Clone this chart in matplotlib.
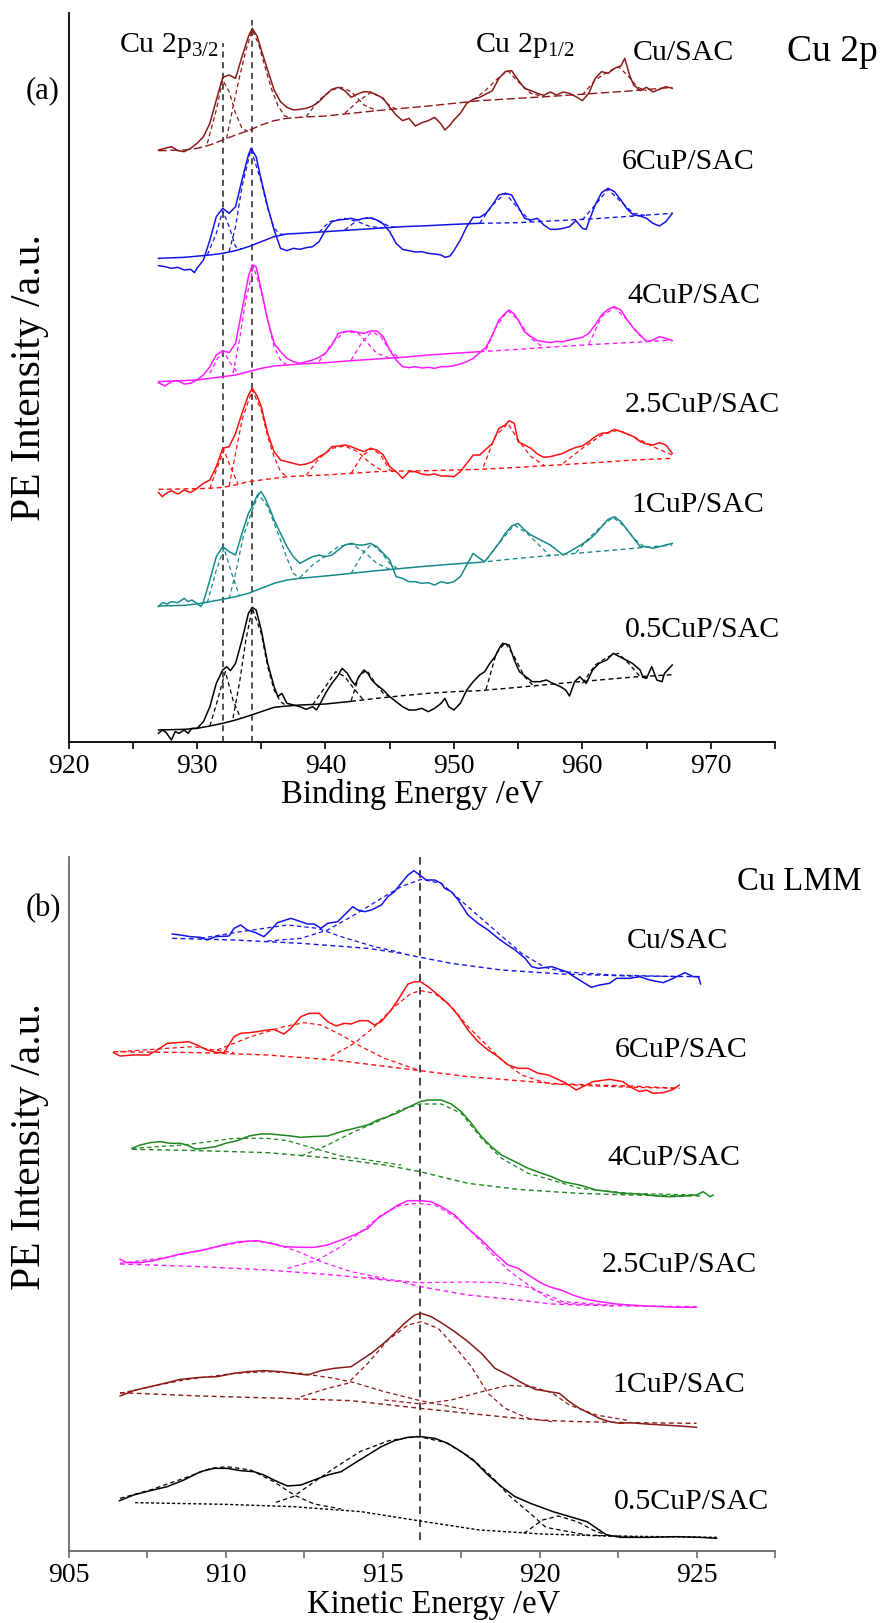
import matplotlib
matplotlib.use("Agg")
import matplotlib.pyplot as plt
import numpy as np
from matplotlib.ticker import MultipleLocator

plt.rcParams['font.family'] = ['Liberation Serif', 'DejaVu Serif']
plt.rcParams['mathtext.fontset'] = 'custom'
plt.rcParams['mathtext.rm'] = 'Liberation Serif'
plt.rcParams['mathtext.it'] = 'Liberation Serif:italic'
plt.rcParams['mathtext.bf'] = 'Liberation Serif:bold'

# ======================= DATA: panel (a) Cu 2p =======================
samples = ['Cu/SAC', '6CuP/SAC', '4CuP/SAC', '2.5CuP/SAC', '1CuP/SAC', '0.5CuP/SAC']
cu2p_ticks = [920, 930, 940, 950, 960, 970]
cu2p_refs = [932.0, 934.3]
cu2p_offsets = [1774, 1451, 1081, 758, 408, 36]

cu2p_cusac = [(927,2),(927.5,7),(928,12),(928.5,0),(929,-3),(929.5,7),(930,22),(930.5,42),(931,82),(931.5,152),
              (932,220),(932.5,227),(933,217),(933.5,282),(934,342),(934.3,367),(934.7,342),(935,302),(935.5,242),
              (936,182),(936.5,147),(937,130),(937.5,122),(938,124),(938.5,127),(939,134),(939.5,147),(940,167),
              (940.5,184),(941,190),(941.5,180),(942,160),(942.5,170),(943,177),(943.5,176),(944,167),(944.5,157),
              (945,130),(945.5,107),(946,90),(946.5,97),(947,74),(947.5,84),(948,90),(948.5,100),(949,80),(949.3,62),
              (949.7,77),(950,92),(950.5,112),(951,142),(951.5,154),(952,160),(952.5,170),(953,180),(953.5,217),
              (954,237),(954.5,240),(955,212),(955.5,187),(956,180),(956.5,172),(957,166),(957.5,176),(958,167),
              (958.5,176),(959,172),(959.5,162),(960,150),(960.5,172),(961,217),(961.5,237),(962,232),(962.5,247),
              (963,254),(963.3,277),(963.7,224),(964,197),(964.5,180),(965,190),(965.5,176),(966,184),(966.5,192),(967,187)]
cu2p_6cup = [(927,-22),(927.5,-25),(928,-30),(928.5,-27),(929,-35),(929.5,-33),(929.8,-43),(930,-30),(930.5,-5),(931,55),
             (931.5,125),(932,150),(932.5,135),(933,155),(933.5,235),(934,310),(934.2,330),(934.6,305),(935,235),
             (935.5,155),(936,85),(936.5,30),(937,23),(937.5,30),(938,27),(938.5,32),(939,35),(939.5,50),(940,85),
             (940.5,110),(941,115),(941.5,117),(942,120),(942.5,115),(943,120),(943.5,121),(944,115),(944.5,103),
             (945,80),(945.5,45),(946,27),(946.5,23),(947,19),(947.5,20),(948,15),(948.5,13),(949,10),(949.3,3),
             (949.7,7),(950,23),(950.5,55),(951,95),(951.5,123),(952,123),(952.5,135),(953,160),(953.5,190),(954,195),
             (954.5,190),(955,155),(955.5,120),(956,115),(956.5,120),(957,100),(957.5,87),(958,87),(958.5,90),(959,95),
             (959.5,113),(960,90),(960.3,87),(960.5,110),(961,160),(961.5,197),(962,210),(962.5,200),(963,175),
             (963.5,147),(964,130),(964.5,127),(965,120),(965.5,105),(966,97),(966.5,110),(967,135)]
cu2p_4cup = [(927,-3),(927.5,-13),(928,0),(928.5,3),(929,-7),(929.5,-5),(930,5),(930.5,20),(931,45),(931.5,80),(932,93),
             (932.5,87),(933,115),(933.5,215),(934,315),(934.3,350),(934.6,345),(935,275),(935.5,185),(936,115),
             (936.5,90),(937,70),(937.5,60),(938,55),(938.5,60),(939,65),(939.5,73),(940,85),(940.5,110),(941,145),
             (941.5,150),(942,152),(942.5,148),(943,145),(943.5,152),(944,152),(944.5,135),(945,95),(945.5,65),
             (946,45),(946.5,42),(947,45),(947.5,41),(948,43),(948.5,40),(949,45),(949.5,45),(950,48),(950.5,53),
             (951,60),(951.5,70),(952,87),(952.5,103),(953,140),(953.5,185),(954,205),(954.3,215),(954.7,203),(955,185),
             (955.5,150),(956,135),(956.5,123),(957,120),(957.5,117),(958,121),(958.5,120),(959,125),(959.5,129),
             (960,133),(960.5,145),(961,170),(961.5,200),(962,217),(962.5,225),(963,215),(963.5,185),(964,160),
             (964.5,140),(965,120),(965.5,125),(966,135),(966.5,130),(967,123)]
cu2p_25cup = [(927,-10),(927.3,-22),(927.6,-12),(928,-4),(928.5,-14),(929,-2),(929.5,-10),(930,3),(930.5,18),(931,28),
              (931.5,68),(932,123),(932.5,128),(933,168),(933.5,228),(934,283),(934.3,303),(934.7,278),(935,248),
              (935.5,168),(936,113),(936.5,88),(937,83),(937.5,78),(938,73),(938.5,76),(939,83),(939.5,98),(940,108),
              (940.5,128),(941,130),(941.5,133),(942,128),(942.5,120),(943,113),(943.5,123),(944,118),(944.5,103),
              (945,68),(945.5,53),(946,33),(946.5,53),(947,53),(947.5,46),(948,43),(948.5,46),(949,40),(949.5,40),
              (950,38),(950.5,53),(951,78),(951.5,103),(952,103),(953,138),(953.5,183),(954,193),(954.3,206),
              (954.7,198),(955,143),(955.5,133),(956,123),(956.5,106),(957,96),(957.5,98),(958,103),(958.5,108),
              (959,118),(959.5,126),(960,130),(960.5,143),(961,158),(961.5,168),(962,170),(962.5,180),(963,173),
              (963.5,166),(964,158),(964.5,143),(965,136),(965.5,133),(966,140),(966.5,133),(967,108)]
cu2p_1cup = [(927,-2),(927.3,10),(927.7,6),(928,13),(928.5,10),(929,23),(929.3,13),(929.6,18),(930,8),(930.3,-2),
             (930.5,13),(931,78),(931.5,148),(932,178),(932.5,163),(933,153),(933.5,218),(934,278),(934.3,298),
             (934.7,333),(935,343),(935.3,323),(935.7,288),(936,258),(936.5,218),(937,178),(937.5,148),(938,128),
             (938.5,138),(939,148),(939.5,153),(940,148),(940.5,153),(941,168),(941.5,183),(942,188),(942.5,183),
             (943,183),(943.5,188),(944,178),(944.5,158),(945,138),(945.5,88),(946,83),(946.5,73),(947,73),(947.5,68),
             (948,70),(948.5,63),(949,73),(949.5,68),(950,73),(950.5,88),(951,123),(951.5,158),(952,143),(952.4,133),
             (953,163),(953.5,188),(954,218),(954.5,240),(955,248),(955.5,228),(956,213),(956.5,203),(957,193),
             (957.5,183),(958,168),(958.5,153),(959,163),(960,186),(960.5,198),(961,216),(961.5,238),(962,260),
             (962.5,268),(963,253),(963.5,228),(964,203),(964.5,178),(965,178),(965.5,173),(966,178),(967,188)]
cu2p_05cup = [(927,-10),(927.3,0),(927.6,-8),(928,-30),(928.3,-5),(928.6,-10),(929,0),(929.3,-10),(929.6,5),(930,5),
              (930.5,25),(931,70),(931.5,140),(932,180),(932.3,190),(932.6,178),(933,200),(933.5,270),(934,350),
              (934.3,368),(934.6,360),(935,300),(935.5,200),(936,130),(936.3,100),(936.6,110),(937,80),(937.5,75),
              (938,70),(938.5,62),(939,70),(939.3,60),(939.6,80),(940,110),(940.5,140),(941,165),(941.3,185),
              (941.7,170),(942,150),(942.3,135),(942.6,160),(943,180),(943.3,170),(943.6,150),(944,135),(944.5,120),
              (945,100),(945.5,85),(946,70),(946.5,60),(947,60),(947.5,65),(948,55),(948.5,65),(949,80),(949.3,95),
              (949.6,70),(950,60),(950.5,80),(951,120),(951.5,145),(952,165),(952.4,175),(952.8,200),(953.2,220),
              (953.6,250),(953.8,260),(954.3,255),(954.7,210),(955.1,175),(955.6,160),(956.1,145),(956.7,145),
              (957.2,150),(957.7,140),(958.3,130),(958.7,120),(959,102),(959.4,145),(959.8,160),(960.3,140),
              (960.8,180),(961.3,200),(961.9,210),(962.4,230),(962.9,220),(963.4,210),(963.9,200),(964.5,180),
              (964.7,160),(965,155),(965.4,190),(965.8,150),(966.2,145),(966.4,170),(967,195)]

# Shirley-type backgrounds (a)
cu2p_bg_cusac = [(927,0),(929,2),(930,7),(931,17),(932,32),(933,47),(934,60),(935,77),(936,90),(937,97),(938,100),
                 (940,104),(942,112),(944,120),(946,127),(948,134),(950,142),(952,150),(955,157),(958,164),(961,172),
                 (964,180),(967,190)]
cu2p_bg_6cup = [(927,0),(929,3),(931,10),(932,15),(933,23),(934,35),(935,50),(936,65),(937,73),(938,75),(940,80),
                (942,85),(944,90),(946,95),(948,98),(950,102),(952,105),(955,107),(958,113),(961,119),(964,127),(967,135)]
cu2p_bg_4cup = [(927,0),(930,5),(932,15),(933,20),(934,30),(935,40),(936,47),(938,53),(940,57),(942,63),(944,68),
                (946,73),(948,80),(950,85),(952,90),(955,97),(958,105),(961,112),(964,118),(967,125)]
cu2p_bg_25cup = [(927,0),(930,2),(931,3),(932,6),(933,13),(934,23),(935,28),(936,33),(937,38),(938,40),(940,43),
                 (942,48),(944,53),(946,55),(948,56),(950,58),(952,60),(955,66),(958,73),(961,80),(964,88),(967,93)]
cu2p_bg_1cup = [(927,0),(929,2),(930,6),(931,13),(932,20),(933,28),(934,38),(935,53),(936,68),(937,78),(938,83),
                (940,90),(942,98),(944,106),(946,113),(948,120),(950,126),(952,131),(955,143),(958,153),(961,163),
                (964,173),(967,183)]
cu2p_bg_05cup = [(927,0),(929,2),(930,5),(931,12),(932,20),(933,30),(934,42),(935,55),(936,68),(937,72),(938,75),
                 (940,78),(942,86),(944,95),(946,103),(948,110),(950,115),(952,118),(955,128),(958,139),(961,149),
                 (964,159),(967,166)]

# fitted components (a): Cu+ 932, Cu2+ 934.3, satellites, 2p1/2 peaks
cu2p_fit_cusac = [
    [(930.8,22),(931.5,122),(932,212),(932.5,177),(933,112),(933.5,67),(934,57)],
    [(932.3,37),(932.8,130),(933.3,220),(933.8,300),(934.3,362),(934.8,320),(935.3,250),(935.8,185),(936.3,135),(936.8,105),(937.3,98)],
    [(938.5,102),(939.5,152),(940.5,182),(941.2,190),(942,177),(943,137),(944,120)],
    [(941.5,112),(942.5,147),(943.5,174),(944.3,162),(945,135),(945.5,125)],
    [(951.5,152),(952.5,182),(953.5,220),(954.2,240),(955,207),(956,172),(957,162)],
    [(960,167),(961,212),(962,237),(962.8,252),(963.5,227),(964.3,190),(965,180)]]
cu2p_fit_6cup = [
    [(930.8,10),(931.5,75),(932,143),(932.5,95),(933,35),(933.5,28)],
    [(932.5,20),(933,95),(933.5,215),(934.2,327),(935,230),(935.5,150),(936,90),(936.5,72),(937,73)],
    [(939.5,78),(940.3,110),(941.5,120),(942.5,110),(943.5,95),(944.5,92)],
    [(941.5,85),(942.5,115),(943.5,123),(944.3,110),(945,95),(945.5,93)],
    [(952,105),(953,160),(954,195),(955,150),(956,110)],
    [(960,115),(961,160),(962,207),(963,170),(964,135),(965,128)]]
cu2p_fit_4cup = [
    [(931,25),(931.6,70),(932.1,90),(932.6,55),(933.2,25)],
    [(932.8,25),(933.3,125),(933.8,245),(934.4,345),(935,270),(935.5,185),(936,105),(936.5,65),(937,50)],
    [(939.5,60),(940.5,115),(941.5,150),(942.5,147),(943.3,115),(944,85),(945,71)],
    [(942,65),(942.8,115),(943.6,150),(944.3,135),(945,95),(945.7,72)],
    [(952.5,95),(953.3,165),(954.2,213),(955,185),(956,130),(957,102)],
    [(960.5,112),(961.5,195),(962.5,223),(963.5,185),(964.3,145),(965,122)]]
cu2p_fit_25cup = [
    [(931,3),(931.6,68),(932.1,118),(932.6,68),(933.2,15)],
    [(932.5,10),(933,108),(933.5,208),(934.3,298),(935,238),(935.5,158),(936,98),(936.5,53),(937,38)],
    [(938.5,42),(939.5,93),(940.5,123),(941.5,130),(942.5,113),(943.5,78),(944.5,54)],
    [(942,48),(942.8,98),(943.6,123),(944.3,103),(945,58),(945.5,54)],
    [(952.3,68),(953.2,158),(954.2,198),(955,148),(956,98),(957,73)],
    [(958.5,78),(960,123),(961.5,163),(962.8,178),(964,158),(965.5,128),(967,103)]]
cu2p_fit_1cup = [
    [(930.8,10),(931.5,108),(932.1,173),(932.7,98),(933.3,30)],
    [(932.5,22),(933,98),(933.6,208),(934.3,288),(934.8,335),(935.5,298),(936,248),(936.5,198),(937,143),(937.5,98),(938,83)],
    [(938,85),(939,123),(940,150),(941,178),(942,186),(943,163),(944,128),(945,110)],
    [(942,98),(943,163),(943.6,186),(944.3,163),(945,128),(945.6,112)],
    [(952.5,138),(953.5,188),(954.7,243),(955.7,218),(956.5,188),(957.5,150)],
    [(959.5,160),(960.5,203),(961.5,240),(962.4,266),(963.3,238),(964,203),(964.8,178)]]
cu2p_fit_05cup = [
    [(931,12),(931.6,90),(932.2,175),(932.8,90),(933.4,35)],
    [(932.8,36),(933.3,140),(933.8,270),(934.3,365),(935,290),(935.5,190),(936,120),(936.5,85),(937,72)],
    [(939,76),(940,130),(940.8,175),(941.5,160),(942.3,120),(943,88)],
    [(942,88),(942.6,160),(943.2,180),(943.8,145),(944.5,110),(945,100)],
    [(952.5,122),(953.3,230),(954,262),(954.7,220),(955.5,160),(956.3,128)],
    [(960,140),(961,195),(962,220),(962.8,230),(963.6,200),(964.5,160),(965,155)]]

# ======================= DATA: panel (b) Cu LMM =======================
lmm_ticks = [905, 910, 915, 920, 925]
lmm_ref = 916.2
lmm_offsets = [1733, 1388, 1063, 731, 383, 41]

lmm_cusac = [(908.30,118),(908.56,115),(908.88,110),(909.20,108),(909.41,100),(909.68,110),(910.11,112),(910.27,135),
             (910.48,145),(910.69,130),(910.96,122),(911.22,110),(911.44,130),(911.65,152),(912.08,165),(912.40,155),
             (912.61,148),(912.82,148),(913.04,135),(913.25,150),(913.57,155),(913.89,185),(914.05,200),(914.21,190),
             (914.43,185),(914.64,190),(914.96,205),(915.17,230),(915.38,245),(915.59,270),(915.81,295),(916.00,308),
             (916.18,295),(916.39,280),(916.66,280),(916.87,270),(916.98,255),(917.19,245),(917.41,220),(917.72,175),
             (918.04,150),(918.36,130),(918.68,105),(918.90,90),(919.22,70),(919.54,45),(919.75,20),(919.96,15),
             (920.39,20),(920.85,5),(921.27,-20),(921.65,-42),(921.91,-35),(922.23,-30),(922.45,-15),(922.87,-15),
             (923.19,-10),(923.51,-20),(923.94,-28),(924.26,-15),(924.63,2),(924.90,-10),(925.06,-10),(925.13,-32)]
lmm_6cup = [(906.43,107),(906.64,97),(907.07,100),(907.55,100),(907.82,115),(908.14,135),(908.45,137),(908.83,140),
            (909.09,130),(909.41,115),(909.73,107),(909.95,107),(910.27,155),(910.48,165),(910.75,167),(911.01,170),
            (911.33,175),(911.54,177),(911.86,163),(912.08,180),(912.40,215),(912.66,225),(912.98,225),(913.25,200),
            (913.52,187),(913.78,195),(914.00,193),(914.26,203),(914.53,203),(914.74,190),(914.96,200),(915.27,235),
            (915.49,265),(915.81,313),(916.02,320),(916.20,320),(916.45,305),(916.77,280),(917.08,255),(917.40,220),
            (917.72,175),(918.04,140),(918.36,115),(918.68,95),(919.00,70),(919.32,60),(919.64,60),(919.96,45),
            (920.28,40),(920.63,25),(920.85,15),(921.17,-5),(921.38,5),(921.70,20),(922.23,27),(922.66,20),(922.87,5),
            (923.19,-10),(923.40,-5),(923.62,-15),(923.94,-13),(924.26,-3),(924.45,10)]
lmm_4cup = [(907.02,145),(907.28,155),(907.60,162),(907.92,165),(908.24,160),(908.56,160),(908.77,155),(909.04,143),
            (909.31,145),(909.68,150),(910.00,160),(910.37,168),(910.75,182),(911.12,188),(911.44,188),(911.76,185),
            (912.08,182),(912.40,178),(912.72,180),(913.25,182),(913.68,195),(914.10,205),(914.53,215),(914.85,230),
            (915.17,240),(915.49,252),(915.81,268),(916.20,285),(916.45,290),(916.87,290),(917.19,278),(917.51,255),
            (917.83,220),(918.15,180),(918.47,150),(918.79,125),(919.22,105),(919.64,85),(920.07,70),(920.39,60),
            (920.74,45),(921.27,35),(921.81,20),(922.23,15),(922.66,10),(923.19,8),(923.72,2),(924.15,0),(924.58,2),
            (925.00,5),(925.21,15),(925.43,0),(925.53,5)]
lmm_25cup = [(906.64,144),(906.86,134),(907.28,134),(907.71,140),(908.14,150),(908.56,160),(908.88,165),(909.20,170),
             (909.63,180),(910.05,190),(910.48,197),(911.01,200),(911.44,192),(911.86,182),(912.40,180),(912.82,180),
             (913.25,187),(913.68,202),(914.10,217),(914.53,237),(914.85,267),(915.17,287),(915.49,307),(915.81,320),
             (916.23,320),(916.55,317),(916.87,302),(917.30,277),(917.72,237),(918.15,202),(918.58,162),(919.00,127),
             (919.32,117),(919.64,97),(920.07,72),(920.31,62),(920.74,50),(921.06,37),(921.49,24),(921.91,17),
             (922.44,10),(922.87,7),(923.40,4),(923.94,2),(924.47,0),(925.00,0)]
lmm_1cup = [(906.64,82),(907.07,98),(907.60,110),(908.14,122),(908.56,132),(909.20,138),(909.73,140),(910.27,150),
            (910.69,155),(911.22,158),(911.76,155),(912.18,150),(912.61,145),(913.04,158),(913.46,165),(914.00,170),
            (914.32,190),(914.64,210),(915.06,242),(915.38,270),(915.70,300),(916.02,325),(916.23,330),(916.55,320),
            (916.87,302),(917.30,275),(917.72,245),(918.15,210),(918.58,165),(919.00,145),(919.43,122),(919.86,102),
            (920.31,95),(920.63,90),(920.95,65),(921.27,45),(921.59,30),(921.91,15),(922.23,5),(922.55,0),(922.87,2),
            (923.40,-2),(923.94,-5),(924.47,-8),(925.00,-12)]
lmm_05cup = [(906.62,110),(907.07,127),(907.60,140),(908.14,152),(908.67,172),(909.20,197),(909.63,207),(910.05,207),
             (910.48,200),(910.90,197),(911.22,187),(911.65,167),(911.97,154),(912.40,157),(912.82,172),(913.25,187),
             (913.68,197),(914.10,222),(914.53,247),(914.96,272),(915.38,290),(915.81,300),(916.23,302),(916.66,297),
             (917.08,282),(917.51,257),(917.94,227),(918.36,187),(918.79,152),(919.22,122),(919.71,102),(920.43,77),
             (920.97,62),(921.51,47),(922.14,7),(922.59,0),(923.48,0),(924.38,2),(925.10,0),(925.64,-3)]

lmm_bg_cusac = [(908.30,105),(910.27,100),(912.40,90),(914.53,75),(915.59,60),(916.20,48),(917.19,30),(918.79,10),
                (920.39,0),(920.74,-2),(922.87,-8),(925.13,-10)]
lmm_bg_6cup = [(906.43,110),(909.20,107),(911.33,100),(913.46,85),(915.59,60),(916.20,53),(917.72,35),(919.32,23),
               (920.39,15),(920.74,13),(922.87,7),(924.45,0)]
lmm_bg_4cup = [(907.02,142),(909.20,138),(911.33,132),(913.46,115),(915.06,95),(916.20,75),(917.72,40),(919.32,22),
               (920.39,15),(921.27,10),(922.87,5),(925.21,2)]
lmm_bg_25cup = [(906.64,130),(909.20,122),(911.33,112),(913.46,97),(915.59,77),(916.20,62),(917.72,37),(919.32,22),
                (920.39,10),(921.27,7),(922.87,4),(925.00,2)]
lmm_bg_1cup = [(906.64,92),(909.20,82),(911.86,75),(914.00,68),(916.20,45),(917.72,30),(919.32,15),(920.39,8),
               (921.27,5),(922.87,2),(925.00,0)]
lmm_bg_05cup = [(907.12,104),(910.00,99),(912.16,92),(914.32,77),(916.20,49),(918.09,22),(920.07,10),(922.14,4),
                (925.64,0)]

lmm_fit_cusac = [
    [(909.20,105),(910.48,125),(911.97,145),(912.93,135),(913.68,110),(914.74,80),(915.59,62)],
    [(911.33,97),(912.40,105),(913.25,130),(914.10,175),(914.96,225),(915.59,260),(916.23,282),(916.87,270),
     (917.72,200),(918.57,130),(919.43,60),(920.17,18),(920.74,5),(922.34,-5),(924.47,-10)]]
lmm_fit_6cup = [
    [(906.64,110),(908.14,120),(908.99,125),(909.63,115),(910.27,107)],
    [(909.73,115),(910.80,155),(911.86,185),(912.50,197),(913.04,190),(913.68,160),(914.32,125),(915.06,90),(916.13,55)],
    [(913.35,95),(914.10,135),(914.74,185),(915.38,245),(915.91,285),(916.23,293),(916.66,285),(917.19,245),
     (917.72,185),(918.26,135),(918.79,85),(919.43,40),(920.07,20),(920.39,13),(921.5,8),(923.0,3),(924.45,0)]]
lmm_fit_4cup = [
    [(907.02,145),(908.67,155),(910.27,175),(911.33,175),(911.97,168),(912.82,145),(913.68,122),(914.53,110),(915.59,95)],
    [(912.40,122),(913.25,155),(914.10,195),(914.96,230),(915.59,262),(916.23,278),(916.87,278),(917.51,250),
     (918.15,175),(918.79,115),(919.64,70),(920.39,50),(921.27,25),(922.87,10),(925.00,5)]]
lmm_fit_25cup = [
    [(906.64,132),(908.14,150),(909.73,182),(910.80,200),(911.54,192),(912.40,164),(913.04,137),(914.00,107),(915.06,87)],
    [(911.97,117),(912.93,142),(913.68,182),(914.32,227),(914.96,277),(915.59,307),(916.13,312),(916.66,307),
     (917.30,272),(917.94,217),(918.47,162),(919.00,112),(919.64,67),(920.28,27),(920.74,12),(922.34,4)],
    [(914.53,90),(916.13,74),(917.72,76),(918.79,74),(919.64,60),(920.39,32),(920.74,17),(922.34,6)]]
lmm_fit_1cup = [
    [(906.64,90),(907.60,110),(908.67,130),(910.27,150),(911.33,155),(912.40,150),(913.46,135),(914.10,122),
     (915.06,95),(916.20,68),(917.72,40)],
    [(912.40,80),(913.25,105),(913.89,120),(914.53,180),(915.17,250),(915.81,295),(916.23,305),(916.77,285),
     (917.30,230),(917.83,170),(918.36,90),(918.90,45),(919.64,15),(920.39,5)],
    [(915.06,70),(916.23,58),(917.19,70),(918.04,92),(919.00,114),(919.75,110),(920.39,92),(920.95,55),(921.81,25),(922.87,8)]]
lmm_fit_05cup = [
    [(906.64,117),(907.60,142),(908.67,177),(909.52,207),(910.05,212),(910.80,202),(911.54,167),(912.18,127),
     (912.82,100),(913.68,85)],
    [(911.60,105),(912.15,122),(912.80,165),(913.50,210),(914.30,258),(915.20,290),(916.10,303),(917.00,285),
     (917.80,240),(918.50,180),(919.00,128),(919.70,72),(920.20,30),(921.50,7),(923.00,2)],
    [(919.50,12),(920.10,52),(920.60,64),(921.20,47),(921.80,17),(922.30,4)]]

# ======================= STYLE / LAYOUT =======================
cu2p_colors = ['#8B1A1A', '#1414E6', '#FF1AFF', '#FF1010', '#168A8A', '#000000']
lmm_colors = ['#1414E6', '#FF1010', '#1E861E', '#FF1AFF', '#8B1A1A', '#000000']
cu2p_bg_solid_to = [None, 952, 952, None, 952, 942]
cu2p_bg_dashes = [(0, (6, 2.5)), (0, (3.5, 2.5)), (0, (3.5, 2.5)), (0, (3.5, 2.5)), (0, (3.5, 2.5)), (0, (3.5, 2.5))]
lmm_bg_dashes = [(0, (3.5, 2.5))] * 5 + [(0, (2.2, 1.6))]

W, H = 882, 1623
fig = plt.figure(figsize=(W / 100, H / 100), dpi=100)
fx = lambda px: px / W
fy = lambda py: 1 - py / H

ax1 = fig.add_axes([fx(68.6), fy(742), (775 - 68.6) / W, (742 - 13) / H])
ax2 = fig.add_axes([fx(68.6), fy(1551), (775 - 68.6) / W, (1551 - 857) / H])

DASH = (0, (3.5, 2.5))


def xy(pairs, off=0):
    a = np.array(pairs, dtype=float)
    return a[:, 0], a[:, 1] + off


def draw_panel(ax, raws, bgs, fits, offsets, colors, bg_dashes, solid_to=None):
    for k, (raw, bg, fit, off, c) in enumerate(zip(raws, bgs, fits, offsets, colors)):
        x, y = xy(raw, off)
        ax.plot(x, y, color=c, lw=1.1, zorder=4)
        bx, byv = xy(bg, off)
        st = solid_to[k] if solid_to is not None else None
        if st is None:
            ax.plot(bx, byv, color=c, lw=1.0, ls=bg_dashes[k], zorder=3)
        else:
            m1 = bx <= st
            m2 = bx >= st
            ax.plot(bx[m1], byv[m1], color=c, lw=1.1, zorder=3)
            ax.plot(bx[m2], byv[m2], color=c, lw=1.0, ls=bg_dashes[k], zorder=3)
        for comp in fit:
            cx, cy = xy(comp, off)
            ax.plot(cx, cy, color=c, lw=0.9, ls=DASH, zorder=3)


draw_panel(ax1,
           [cu2p_cusac, cu2p_6cup, cu2p_4cup, cu2p_25cup, cu2p_1cup, cu2p_05cup],
           [cu2p_bg_cusac, cu2p_bg_6cup, cu2p_bg_4cup, cu2p_bg_25cup, cu2p_bg_1cup, cu2p_bg_05cup],
           [cu2p_fit_cusac, cu2p_fit_6cup, cu2p_fit_4cup, cu2p_fit_25cup, cu2p_fit_1cup, cu2p_fit_05cup],
           cu2p_offsets, cu2p_colors, cu2p_bg_dashes, cu2p_bg_solid_to)
draw_panel(ax2,
           [lmm_cusac, lmm_6cup, lmm_4cup, lmm_25cup, lmm_1cup, lmm_05cup],
           [lmm_bg_cusac, lmm_bg_6cup, lmm_bg_4cup, lmm_bg_25cup, lmm_bg_1cup, lmm_bg_05cup],
           [lmm_fit_cusac, lmm_fit_6cup, lmm_fit_4cup, lmm_fit_25cup, lmm_fit_1cup, lmm_fit_05cup],
           lmm_offsets, lmm_colors, lmm_bg_dashes)

# reference lines
ax1.vlines(cu2p_refs, 0, [2097, 2166], colors='#222222', lw=1.1, linestyles=(0, (4, 3)), zorder=2)
ax2.vlines([lmm_ref], 33, 2097, colors='#111111', lw=1.1, linestyles=(0, (5, 3.5)), zorder=2, clip_on=False)

# axes cosmetics
for ax, (x0, x1), ymax, ticks, minor, sc in [
        (ax1, (920, 975), 2187, cu2p_ticks, 5, 'black'),
        (ax2, (905, 927.5), 2082, lmm_ticks, 2.5, '#6a6a6a')]:
    ax.set_xlim(x0, x1)
    ax.set_ylim(0, ymax)
    ax.set_xticks(ticks)
    ax.xaxis.set_minor_locator(MultipleLocator(minor))
    ax.set_yticks([])
    for s in ['top', 'right']:
        ax.spines[s].set_visible(False)
    for s in ['left', 'bottom']:
        ax.spines[s].set_color(sc)
        ax.spines[s].set_linewidth(1.3)
    ax.tick_params(axis='x', which='both', direction='out', length=5, width=1.2, colors=sc,
                   labelsize=20, pad=4, labelcolor='black')
    ax.patch.set_alpha(0)

ax1.set_xlabel('Binding Energy /eV', fontsize=23.5)
ax1.xaxis.label.set_va('center')
ax1.xaxis.set_label_coords((412 - 68.6) / 706.4, (742 - 795) / 729)
ax2.set_xlabel('Kinetic Energy /eV', fontsize=23.5)
ax2.xaxis.label.set_va('center')
ax2.xaxis.set_label_coords((434 - 68.6) / 706.4, (1551 - 1605) / 694)

fig.text(fx(30), fy(378), 'PE Intensity /a.u.', rotation=90, ha='center', va='center', fontsize=30)
fig.text(fx(30), fy(1147), 'PE Intensity /a.u.', rotation=90, ha='center', va='center', fontsize=30)

# annotations panel (a)
fig.text(fx(119), fy(52), r'Cu 2p$_{\mathregular{3/2}}$', fontsize=21.5, ha='left', va='baseline')
fig.text(fx(475), fy(52), r'Cu 2p$_{\mathregular{1/2}}$', fontsize=21.5, ha='left', va='baseline')
fig.text(fx(787), fy(61), 'Cu 2p', fontsize=27, ha='left', va='baseline')
fig.text(fx(43), fy(91), '(a)', fontsize=22, ha='center', va='center')
top_label_pos = [(633, 60), (622, 169), (627, 303), (625, 412), (631, 512), (625, 637)]
for s, (px, py) in zip(samples, top_label_pos):
    fig.text(fx(px), fy(py), s, fontsize=21.5, ha='left', va='baseline')

# annotations panel (b)
fig.text(fx(43), fy(909), '(b)', fontsize=22, ha='center', va='center')
fig.text(fx(737), fy(890), 'Cu LMM', fontsize=23.5, ha='left', va='baseline')
bot_label_pos = [(627, 948), (615, 1057), (607, 1165), (602, 1272), (612, 1392), (614, 1509)]
for s, (px, py) in zip(samples, bot_label_pos):
    fig.text(fx(px), fy(py), s, fontsize=21.5, ha='left', va='baseline')

fig.savefig('out.png', dpi=100, facecolor='white')
